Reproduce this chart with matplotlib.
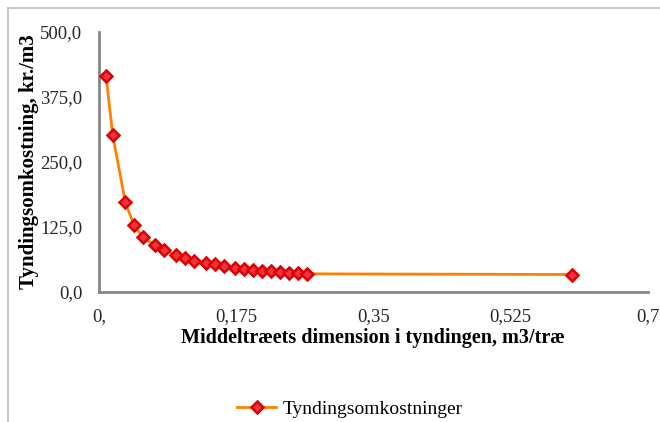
import matplotlib.pyplot as plt
from matplotlib.lines import Line2D
from matplotlib.ticker import FixedLocator, FixedFormatter

# middeltræets dimension (m3/træ) og tyndingsomkostning (kr./m3)
dimension = [0.009, 0.0175, 0.0336, 0.0446, 0.0557, 0.0714, 0.0829, 0.0982,
             0.1097, 0.121, 0.136, 0.1475, 0.1594, 0.174, 0.185, 0.196,
             0.208, 0.219, 0.231, 0.242, 0.254, 0.265, 0.604]
omkostning = [415, 301, 171.7, 127.5, 105, 89, 79.5, 70,
              64.7, 59.6, 55, 52, 48.7, 46, 43.6, 41.7,
              39.7, 38.5, 37, 35.9, 35.3, 34, 32.7]

x_ticks = [0, 0.175, 0.35, 0.525, 0.7]
x_labels = ["0,", "0,175", "0,35", "0,525", "0,7"]
y_ticks = [0, 125, 250, 375, 500]
y_labels = ["0,0", "125,0", "250,0", "375,0", "500,0"]

plt.rcParams['font.family'] = ['Liberation Serif', 'DejaVu Serif']

fig = plt.figure(figsize=(6.6, 4.22), dpi=100)
ax = fig.add_axes([99 / 660, 1 - 291.5 / 422, (647.7 - 99) / 660, (291.5 - 31.7) / 422])

ax.plot(dimension, omkostning, color='#ff8000', lw=2.0, marker='D', ms=6.5,
        mfc='#ee3344', mec='#dd0000', mew=1.8, label='Tyndingsomkostninger',
        clip_on=False, zorder=3)

ax.set_xlim(0, 0.7)
ax.set_ylim(0, 500)
ax.xaxis.set_major_locator(FixedLocator(x_ticks))
ax.xaxis.set_major_formatter(FixedFormatter(x_labels))
ax.yaxis.set_major_locator(FixedLocator(y_ticks))
ax.yaxis.set_major_formatter(FixedFormatter(y_labels))
ax.tick_params(length=0, labelsize=13.5, colors='#262626')
ax.tick_params(axis='x', pad=12)
ax.tick_params(axis='y', pad=12)

for s in ['top', 'right']:
    ax.spines[s].set_visible(False)
for s in ['left', 'bottom']:
    ax.spines[s].set_color('#868686')
    ax.spines[s].set_linewidth(2)

ax.set_xlabel("Middeltræets dimension i tyndingen, m3/træ", fontsize=14.5,
              fontweight='bold', labelpad=2)
ax.set_ylabel("Tyndingsomkostning, kr./m3", fontsize=15, fontweight='bold',
              labelpad=1)

fig.legend(loc='center', bbox_to_anchor=(350 / 660, 1 - 409 / 422), frameon=False,
           fontsize=14, handlelength=2.0, handletextpad=0.35)

# chart area border
fig.add_artist(Line2D([8 / 660, 1], [1 - 8 / 422] * 2, color='#bfbfbf', lw=1.2))
fig.add_artist(Line2D([8 / 660] * 2, [0, 1 - 8 / 422], color='#bfbfbf', lw=1.2))

fig.savefig("out.png", dpi=100)
